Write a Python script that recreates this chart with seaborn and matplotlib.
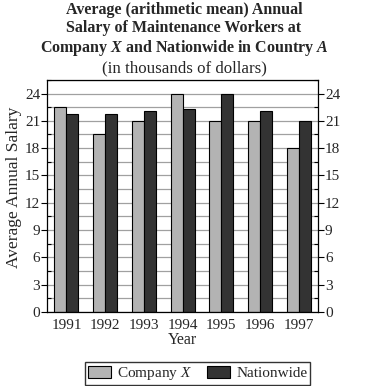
import pandas as pd
import numpy as np
import matplotlib
matplotlib.use('Agg')
import matplotlib.pyplot as plt
import seaborn as sns
from matplotlib.ticker import MultipleLocator

years = ['1991', '1992', '1993', '1994', '1995', '1996', '1997']
company_x = [22.5, 19.5, 21.0, 24.0, 21.0, 21.0, 18.0]
nationwide = [21.8, 21.8, 22.1, 22.3, 24.0, 22.1, 21.0]
series_names = ['Company $\\mathit{X}$', 'Nationwide']

df = pd.DataFrame({
    'Year': years * 2,
    'Salary': company_x + nationwide,
    'Series': [series_names[0]] * len(years) + [series_names[1]] * len(years),
})

sns.set_style('white')
plt.rcParams['font.family'] = ['Liberation Serif', 'DejaVu Serif']
plt.rcParams['mathtext.fontset'] = 'custom'
plt.rcParams['mathtext.rm'] = 'Liberation Serif'
plt.rcParams['mathtext.it'] = 'Liberation Serif:italic'
plt.rcParams['mathtext.bf'] = 'Liberation Serif:bold'
plt.rcParams['mathtext.bfit'] = 'Liberation Serif:italic:bold'

fig = plt.figure(figsize=(3.68, 3.86), dpi=100)
ax = fig.add_axes([0.128, 0.192, 0.736, 0.601])

ax.set_axisbelow(True)
ax.yaxis.set_major_locator(MultipleLocator(3))
ax.yaxis.set_minor_locator(MultipleLocator(1.5))
ax.grid(True, axis='y', which='both', color='#a0a0a0', linewidth=0.9)

sns.barplot(data=df, x='Year', y='Salary', hue='Series', ax=ax,
            palette=['#b3b3b3', '#333333'], width=0.62,
            edgecolor='black', linewidth=0.8, saturation=1, legend=True)

ax.set_ylim(0, 25.5)
ax.set_xlim(-0.5, 6.5)
ax.set_xlabel('Year', fontsize=11.5, labelpad=0)
ax.set_ylabel('Average Annual Salary', fontsize=12.5, labelpad=2, y=0.535)
ax.tick_params(axis='both', which='major', labelsize=11, length=4, width=0.8, pad=1,
               color='black', direction='out')
ax.tick_params(axis='y', which='minor', length=3, width=0.8, color='black', direction='in',
               left=True, right=True)
ax.tick_params(axis='y', right=True, labelright=True, left=True)
for sp in ax.spines.values():
    sp.set_color('black')
    sp.set_linewidth(0.9)

handles, labels = ax.get_legend_handles_labels()
ax.get_legend().remove()
fig.legend(handles, labels, loc='lower center', bbox_to_anchor=(0.537, 0.0), ncol=2,
           fontsize=11, frameon=True, fancybox=False, edgecolor='black',
           handlelength=1.5, handleheight=0.8, columnspacing=1.0, handletextpad=0.4,
           borderpad=0.2, borderaxespad=0.05)

title = ('Average (arithmetic mean) Annual\n'
         'Salary of Maintenance Workers at\n'
         'Company $\\mathbfit{X}$ and Nationwide in Country $\\mathbfit{A}$')
fig.text(0.5, 0.995, title, ha='center', va='top', fontsize=11.5,
         fontweight='bold', linespacing=1.15)
fig.text(0.5, 0.843, '(in thousands of dollars)', ha='center', va='top', fontsize=12.2)

plt.savefig('out.png', dpi=100)
